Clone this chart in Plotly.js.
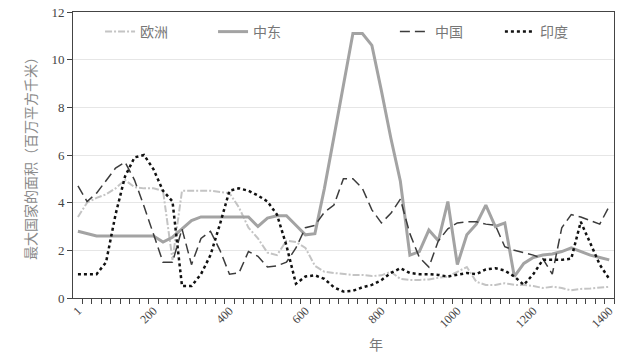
<!DOCTYPE html>
<html>
<head>
<meta charset="utf-8">
<script src="https://cdn.plot.ly/plotly-3.0.1.min.js"></script>
<style>html,body{margin:0;padding:0;background:#fff;}#chart{width:628px;height:359px;}</style>
</head>
<body>
<div id="chart"></div>
<script>
// Years (category every 25 years)
const years = [1,25,50,75,100,125,150,175,200,225,250,275,300,325,350,375,400,425,450,475,500,525,550,575,600,625,650,675,700,725,750,775,800,825,850,875,900,925,950,975,1000,1025,1050,1075,1100,1125,1150,1175,1200,1225,1250,1275,1300,1325,1350,1375,1400];
const europe = [3.4,4.0,4.2,4.35,4.6,4.95,4.65,4.6,4.6,4.5,1.6,4.5,4.5,4.5,4.5,4.45,4.4,3.8,2.95,2.5,1.9,1.8,2.4,2.35,2.1,1.35,1.1,1.05,1.0,0.97,0.97,0.92,0.95,1.1,0.8,0.76,0.76,0.78,0.85,0.9,1.1,1.3,0.68,0.55,0.55,0.62,0.55,0.55,0.5,0.42,0.47,0.42,0.32,0.38,0.4,0.45,0.47];
const middleEast = [2.8,2.7,2.6,2.6,2.6,2.6,2.6,2.6,2.6,2.35,2.55,2.9,3.25,3.4,3.4,3.4,3.4,3.4,3.4,3.0,3.35,3.45,3.45,3.05,2.65,2.7,4.6,6.75,8.9,11.1,11.1,10.6,8.7,6.7,4.9,1.8,1.95,2.85,2.4,4.05,1.4,2.65,3.1,3.9,3.0,3.15,0.9,1.45,1.7,1.8,1.85,1.95,2.1,1.95,1.8,1.7,1.6];
const china = [4.7,4.05,4.4,4.9,5.45,5.7,4.95,3.85,2.7,1.5,1.5,2.9,1.4,2.5,2.8,2.0,1.0,1.05,1.95,1.75,1.3,1.35,1.5,2.1,2.95,3.05,3.6,3.9,5.0,5.0,4.6,3.7,3.15,3.55,4.15,2.7,1.7,1.3,2.4,2.9,3.15,3.2,3.2,3.1,3.05,2.15,2.0,1.9,1.8,1.65,1.0,2.95,3.5,3.4,3.25,3.1,3.85];
const india = [1.0,1.0,1.0,1.5,3.5,5.1,5.9,6.0,5.4,4.5,4.05,0.5,0.5,1.0,1.8,3.1,4.5,4.6,4.5,4.3,4.05,3.5,2.2,0.6,0.9,0.95,0.8,0.45,0.27,0.3,0.45,0.55,0.75,1.05,1.25,1.05,1.0,1.0,0.97,0.9,0.97,1.05,1.0,1.2,1.25,1.15,0.9,0.55,1.0,1.6,1.6,1.6,1.65,3.2,2.3,1.4,0.8];
const xTickVals = [1,200,400,600,800,1000,1200,1400];
const xTickText = ['1','200','400','600','800','1000','1200','1400'];
const seriesNames = ['欧洲','中东','中国','印度'];

const FONT = 'Liberation Serif, "Noto Sans CJK SC", serif';

const traces = [
  {x: years, y: europe, name: seriesNames[0], mode: 'lines', legend: 'legend',
   line: {color: '#c4c4c4', width: 2, dash: '7px,2px,2px,2px'}},
  {x: years, y: middleEast, name: seriesNames[1], mode: 'lines', legend: 'legend',
   line: {color: '#a3a3a3', width: 3}},
  {x: years, y: china, name: seriesNames[2], mode: 'lines', legend: 'legend2',
   line: {color: '#3c3c3c', width: 1.5, dash: '10px,5px'}},
  {x: years, y: india, name: seriesNames[3], mode: 'lines', legend: 'legend2',
   line: {color: '#111111', width: 2.5, dash: 'dot'}}
];

const layout = {
  width: 628, height: 359,
  margin: {l: 73, r: 14, t: 12, b: 61},
  paper_bgcolor: '#ffffff', plot_bgcolor: '#ffffff',
  font: {family: FONT, size: 12, color: '#444'},
  showlegend: true,
  legend: {orientation: 'h', x: 0.05, y: 0.93, xanchor: 'left', yanchor: 'middle',
           entrywidth: 68, font: {size: 14, color: '#777'}, bgcolor: 'rgba(0,0,0,0)'},
  legend2: {orientation: 'h', x: 0.595, y: 0.93, xanchor: 'left', yanchor: 'middle',
           entrywidth: 60, font: {size: 14, color: '#777'}, bgcolor: 'rgba(0,0,0,0)'},
  xaxis: {
    range: [-12, 1412.5], tickmode: 'array', tickvals: xTickVals, ticktext: xTickText,
    tickangle: -45, ticks: '', showgrid: false, zeroline: false,
    showline: true, linecolor: '#444', linewidth: 1, mirror: true,
    tickfont: {family: FONT, size: 12, color: '#444'},
    minor: {tickmode: 'linear', tick0: 12.5, dtick: 25, ticks: 'outside', ticklen: 5, tickcolor: '#444', showgrid: false}
  },
  yaxis: {
    range: [0, 12], dtick: 2, tick0: 0, ticks: 'outside', ticklen: 5, tickcolor: '#444',
    showgrid: true, gridcolor: '#e6e6e6', zeroline: false,
    showline: true, linecolor: '#444', linewidth: 1, mirror: true,
    tickfont: {family: FONT, size: 13, color: '#444'},
    title: {text: '最大国家的面积（百万平方千米）', font: {family: FONT, size: 14, color: '#8a8a8a'}, standoff: 11}
  },
  annotations: [
    {text: '年', xref: 'paper', yref: 'paper', x: (376-73)/541, y: -(345-298)/286,
     xanchor: 'center', yanchor: 'middle', showarrow: false, font: {family: FONT, size: 14, color: '#777'}}
  ]
};

Plotly.newPlot('chart', traces, layout, {displayModeBar: false, staticPlot: true});
</script>
</body>
</html>
